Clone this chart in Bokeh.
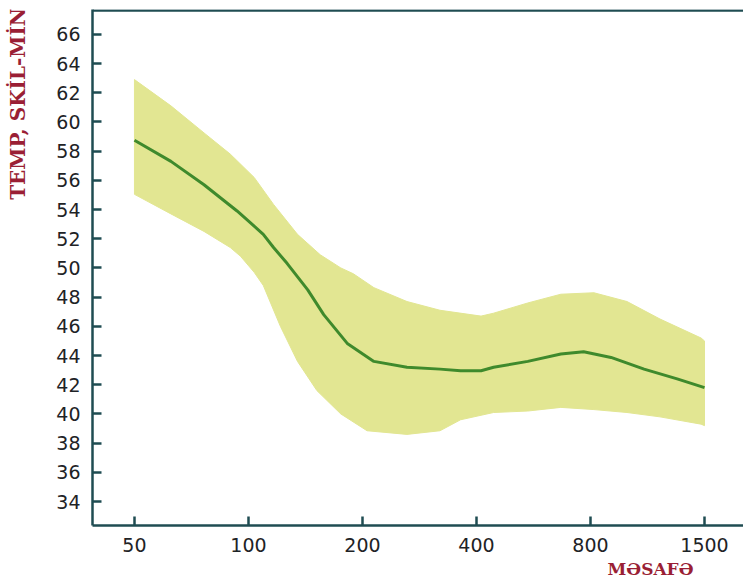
import math
from bokeh.plotting import figure
from bokeh.layouts import row
from bokeh.models import FixedTicker, Span, Range1d, Title
from bokeh.core.properties import value
from bokeh.embed import file_html
from bokeh.resources import INLINE

# categories (equally spaced on the x axis)
distances = ["50", "100", "200", "400", "800", "1500"]
y_ticks = list(range(34, 67, 2))

# central curve (x given as position along the category axis)
mean_x = [0.00, 0.32, 0.61, 0.90, 1.13, 1.22, 1.34, 1.46, 1.52, 1.66, 1.87, 2.10,
          2.39, 2.68, 2.86, 3.04, 3.15, 3.45, 3.74, 3.94, 4.18, 4.47, 4.76, 5.00]
mean_y = [58.75, 57.3, 55.7, 53.9, 52.3, 51.4, 50.3, 49.1, 48.5, 46.8, 44.8, 43.6,
          43.2, 43.07, 42.96, 42.96, 43.2, 43.6, 44.1, 44.26, 43.87, 43.07, 42.4, 41.8]

# upper edge of the band
upper_x = [0.00, 0.32, 0.61, 0.84, 1.05, 1.22, 1.43, 1.63, 1.81, 1.92, 2.10, 2.39,
           2.68, 3.04, 3.15, 3.45, 3.74, 4.03, 4.32, 4.61, 4.97, 5.00]
upper_y = [62.9, 61.1, 59.25, 57.8, 56.2, 54.35, 52.3, 50.9, 50.0, 49.6, 48.65, 47.7,
           47.1, 46.7, 46.9, 47.6, 48.2, 48.3, 47.7, 46.5, 45.2, 45.0]

# lower edge of the band
lower_x = [0.00, 0.32, 0.61, 0.84, 0.93, 1.05, 1.13, 1.28, 1.43, 1.60, 1.81, 2.04,
           2.39, 2.68, 2.86, 3.15, 3.45, 3.74, 4.03, 4.32, 4.61, 4.97, 5.00]
lower_y = [55.04, 53.7, 52.5, 51.4, 50.8, 49.7, 48.8, 46.0, 43.6, 41.6, 40.0, 38.85,
           38.6, 38.85, 39.6, 40.1, 40.2, 40.45, 40.3, 40.1, 39.8, 39.3, 39.2]

y_title = "TEMP, SKİL-MİN"
x_title = "MƏSAFƏ"

AXIS = "#1f4c52"
RED = "#9a1f35"

# narrow strip holding the vertical axis title (its own pixel-unit ranges)
side = figure(width=30, height=585, output_backend="svg", toolbar_location=None,
              x_range=Range1d(0, 30), y_range=Range1d(0, 585),
              min_border=0)
side.axis.visible = False
side.grid.visible = False
side.outline_line_color = None
side.text(x=[17], y=[478], text=[y_title], angle=math.pi / 2,
          text_align="center", text_baseline="middle",
          text_font=value("DejaVu Serif"), text_font_style="bold",
          text_font_size="20px", text_color=RED)

p = figure(width=713, height=585, output_backend="svg", toolbar_location=None,
           x_range=Range1d(-0.368, 5.342), y_range=Range1d(32.36, 67.70),
           min_border_left=62, min_border_right=0, min_border_top=9, min_border_bottom=60)
p.outline_line_color = None
p.xgrid.visible = False
p.ygrid.visible = False
p.background_fill_color = "white"

band_x = upper_x + lower_x[::-1]
band_y = upper_y + lower_y[::-1]
p.patch(band_x, band_y, fill_color="#e2e692", line_color="#e2e692", line_width=1)
p.line(mean_x, mean_y, line_color="#3f8a2c", line_width=3, line_join="round")

for ax in (p.xaxis[0], p.yaxis[0]):
    ax.axis_line_color = AXIS
    ax.axis_line_width = 2.5
    ax.major_tick_line_color = AXIS
    ax.major_tick_line_width = 2.5
    ax.major_tick_in = 9
    ax.major_tick_out = 0
    ax.minor_tick_line_color = None
    ax.major_label_text_font = "DejaVu Sans"
    ax.major_label_text_font_size = "19px"
    ax.major_label_text_color = "#1e2326"
    ax.major_label_standoff = 12

p.xaxis.ticker = FixedTicker(ticks=list(range(len(distances))))
p.xaxis.major_label_overrides = {i: d for i, d in enumerate(distances)}
p.yaxis.ticker = FixedTicker(ticks=y_ticks)

p.add_layout(Span(location=67.64, dimension="width", line_color=AXIS, line_width=2.5))

p.add_layout(Title(text=x_title, align="right", offset=50, standoff=5,
                   text_font="DejaVu Serif", text_font_style="bold",
                   text_font_size="17px", text_color=RED), "below")

layout = row(side, p)
open("out.html", "w").write(file_html(layout, INLINE))
